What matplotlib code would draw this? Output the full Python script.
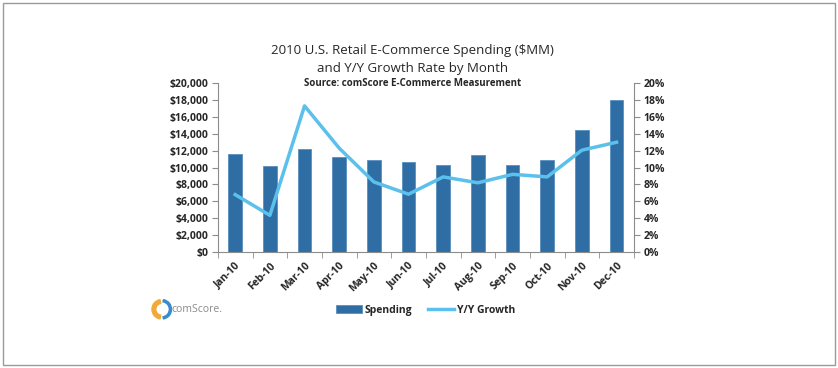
import matplotlib
matplotlib.use("Agg")
import matplotlib.pyplot as plt
from matplotlib.ticker import FuncFormatter, FixedLocator
from matplotlib.patches import Rectangle, Wedge

plt.rcParams['font.family'] = ['Open Sans', 'DejaVu Sans']

# data
months = ["Jan-10", "Feb-10", "Mar-10", "Apr-10", "May-10", "Jun-10",
          "Jul-10", "Aug-10", "Sep-10", "Oct-10", "Nov-10", "Dec-10"]
spending = [11590, 10130, 12180, 11230, 10910, 10720,
            10320, 11500, 10250, 10840, 14400, 18030]
growth = [6.8, 4.35, 17.3, 12.3, 8.3, 6.85, 8.9, 8.2, 9.2, 8.9, 12.06, 13.0]

bar_color = "#2F6EA5"
line_color = "#5BC0EB"
text_color = "#262626"
axis_color = "#8C8C8C"

fig = plt.figure(figsize=(8.38, 3.68), dpi=100)
fig.patch.set_facecolor("white")

# grey frame round the picture
fig.patches.append(Rectangle((0.003, 0.008), 0.994, 0.984, transform=fig.transFigure,
                             fill=False, edgecolor="#9A9A9A", lw=1.0))

ax = fig.add_axes([0.260, 0.315, 0.4964, 0.4592])
x = list(range(len(months)))
bars = ax.bar(x, spending, width=0.4, color=bar_color, edgecolor="#5A8FC0",
              linewidth=0.6, label="Spending", zorder=2)
ax.set_xlim(-0.5, 11.5)
ax.set_ylim(0, 20000)
ax.set_yticks(range(0, 20001, 2000))
ax.yaxis.set_major_formatter(FuncFormatter(lambda v, p: "${:,.0f}".format(v)))

ax.set_xticks(x)
ax.set_xticklabels(months, rotation=45, ha="right", rotation_mode="anchor",
                   fontsize=7.5, fontweight="bold", color=text_color)
ax.xaxis.set_minor_locator(FixedLocator([i - 0.5 for i in range(13)]))
ax.tick_params(axis="x", which="major", length=0, pad=6)
ax.tick_params(axis="x", which="minor", length=4, color=axis_color, direction="out")
ax.tick_params(axis="y", length=4, color=axis_color, labelsize=7.5,
               labelcolor=text_color, pad=3)
for lab in ax.get_yticklabels():
    lab.set_fontweight("bold")

for side in ["top", "right"]:
    ax.spines[side].set_visible(False)
ax.spines["left"].set_color(axis_color)
ax.spines["bottom"].set_color(axis_color)

ax2 = ax.twinx()
line, = ax2.plot(x, growth, color=line_color, lw=2.5, label="Y/Y Growth", zorder=3)
ax2.set_ylim(0, 20)
ax2.set_yticks(range(0, 21, 2))
ax2.yaxis.set_major_formatter(FuncFormatter(lambda v, p: "{:.0f}%".format(v)))
ax2.tick_params(axis="y", length=4, color=axis_color, labelsize=7.5,
                labelcolor=text_color, pad=3)
for lab in ax2.get_yticklabels():
    lab.set_fontweight("bold")
for side in ["top", "left", "bottom"]:
    ax2.spines[side].set_visible(False)
ax2.spines["right"].set_color(axis_color)

# titles
fig.text(0.492, 0.862, "2010 U.S. Retail E-Commerce Spending ($MM)", ha="center",
         va="center", fontsize=9.5, color=text_color)
fig.text(0.492, 0.813, "and Y/Y Growth Rate by Month", ha="center",
         va="center", fontsize=9.5, color=text_color)
fig.text(0.492, 0.773, "Source: comScore E-Commerce Measurement", ha="center",
         va="center", fontsize=7, fontweight="bold", color=text_color)

# legend
fig.legend([bars, line], ["Spending", "Y/Y Growth"], loc="center",
           bbox_to_anchor=(0.508, 0.157), ncol=2, frameon=False,
           prop={"size": 7.5, "weight": "bold"}, handlelength=2.5,
           columnspacing=1.5, handletextpad=0.3, labelcolor=text_color)

# comScore logo
logo = fig.add_axes([0.180, 0.130, 0.026, 0.059])
logo.set_xlim(-1, 1)
logo.set_ylim(-1, 1)
logo.set_aspect("equal")
logo.axis("off")
logo.add_patch(Wedge((0, 0), 0.9, 100, 260, width=0.35, color="#F2A93B"))
logo.add_patch(Wedge((0, 0), 0.9, 280, 80, width=0.2, color="#3A8CC9"))
fig.text(0.205, 0.158, "comScore.", ha="left", va="center", fontsize=7.5,
         color="#8A8A8A")

fig.savefig("out.png", dpi=100)
